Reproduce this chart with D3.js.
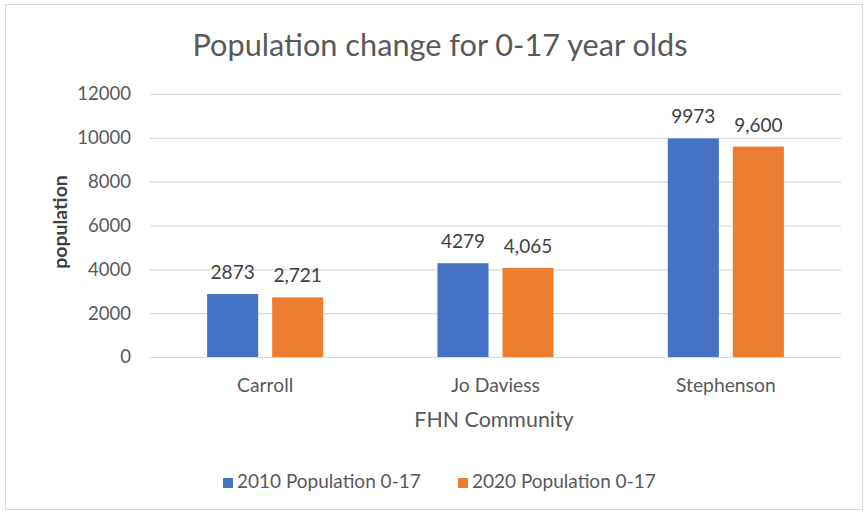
<!DOCTYPE html>
<html><head><meta charset="utf-8">
<script src="https://cdn.jsdelivr.net/npm/d3@7/dist/d3.min.js"></script>
<style>body{margin:0;background:#fff;} svg{display:block;}</style>
</head><body><svg id="c" width="866" height="514"></svg>
<script>
const categories = ["Carroll", "Jo Daviess", "Stephenson"];
const seriesNames = ["2010 Population 0-17", "2020 Population 0-17"];
const values2010 = [2873, 4279, 9973];
const values2020 = [2721, 4065, 9600];
const labels2010 = ["2873", "4279", "9973"];
const labels2020 = ["2,721", "4,065", "9,600"];
const yTicks = [0, 2000, 4000, 6000, 8000, 10000, 12000];
const colors = ["#4472C4", "#ED7D31"];

const svg = d3.select("#c");
const font = "Lato, 'Open Sans', sans-serif";
const textColor = "#595959";

svg.append("rect").attr("x", 5.5).attr("y", 4.5).attr("width", 857).attr("height", 505)
  .attr("fill", "#fff").attr("stroke", "#d9d9d9");

const pLeft = 150, pRight = 841, pTop = 94, pBottom = 357;
const y = d3.scaleLinear().domain([0, 12000]).range([pBottom, pTop]);
const x0 = d3.scaleBand().domain(categories).range([pLeft, pRight]).paddingInner(0.496).paddingOuter(0.248);
const x1 = d3.scaleBand().domain([0, 1]).range([0, x0.bandwidth()]).paddingInner(0.215).paddingOuter(0);

// gridlines
const yAxis = d3.axisLeft(y).tickValues(yTicks).tickSize(-(pRight - pLeft)).tickPadding(19).tickFormat(d3.format("d"));
const gy = svg.append("g").attr("transform", `translate(${pLeft},0)`).call(yAxis);
gy.select(".domain").remove();
gy.selectAll(".tick line").attr("stroke", "#d9d9d9").attr("stroke-width", 1.2);
gy.selectAll(".tick text").attr("fill", textColor).style("font-family", font).style("font-size", "18.5px");

// x axis labels
const xAxis = d3.axisBottom(x0).tickSize(0).tickPadding(0);
const gx = svg.append("g").attr("transform", `translate(0,${pBottom})`).call(xAxis);
gx.select(".domain").remove();
gx.selectAll(".tick text").attr("fill", textColor).attr("dy", null).attr("y", 35)
  .style("font-family", font).style("font-size", "19.3px");

const series = [values2010, values2020];
const labels = [labels2010, labels2020];
series.forEach((vals, s) => {
  const g = svg.append("g");
  g.selectAll("rect").data(categories).join("rect")
    .attr("x", c => x0(c) + x1(s))
    .attr("width", x1.bandwidth())
    .attr("y", (c, i) => y(vals[i]))
    .attr("height", (c, i) => pBottom - y(vals[i]))
    .attr("fill", colors[s]);
  g.selectAll("text").data(categories).join("text")
    .attr("x", c => x0(c) + x1(s) + x1.bandwidth() / 2)
    .attr("y", (c, i) => y(vals[i]) - 15)
    .attr("text-anchor", "middle")
    .attr("fill", "#404040")
    .style("font-family", font).style("font-size", "19px")
    .text((c, i) => labels[s][i]);
});

// title
svg.append("text").attr("x", 440).attr("y", 56).attr("text-anchor", "middle")
  .attr("fill", textColor).style("font-family", font).style("font-size", "30.7px")
  .text("Population change for 0-17 year olds");

// axis titles
svg.append("text").attr("transform", "translate(67,222) rotate(-90)").attr("text-anchor", "middle")
  .attr("fill", "#404040").style("font-family", font).style("font-size", "19.5px").style("font-weight", "700")
  .text("population");
svg.append("text").attr("x", 494).attr("y", 427).attr("text-anchor", "middle")
  .attr("fill", textColor).style("font-family", font).style("font-size", "21.4px")
  .text("FHN Community");

// legend
const legendX = [223, 458];
seriesNames.forEach((n, i) => {
  svg.append("rect").attr("x", legendX[i]).attr("y", 478).attr("width", 10).attr("height", 10).attr("fill", colors[i]);
  svg.append("text").attr("x", legendX[i] + 14).attr("y", 488)
    .attr("fill", textColor).style("font-family", font).style("font-size", "19px").text(n);
});
</script></body></html>
